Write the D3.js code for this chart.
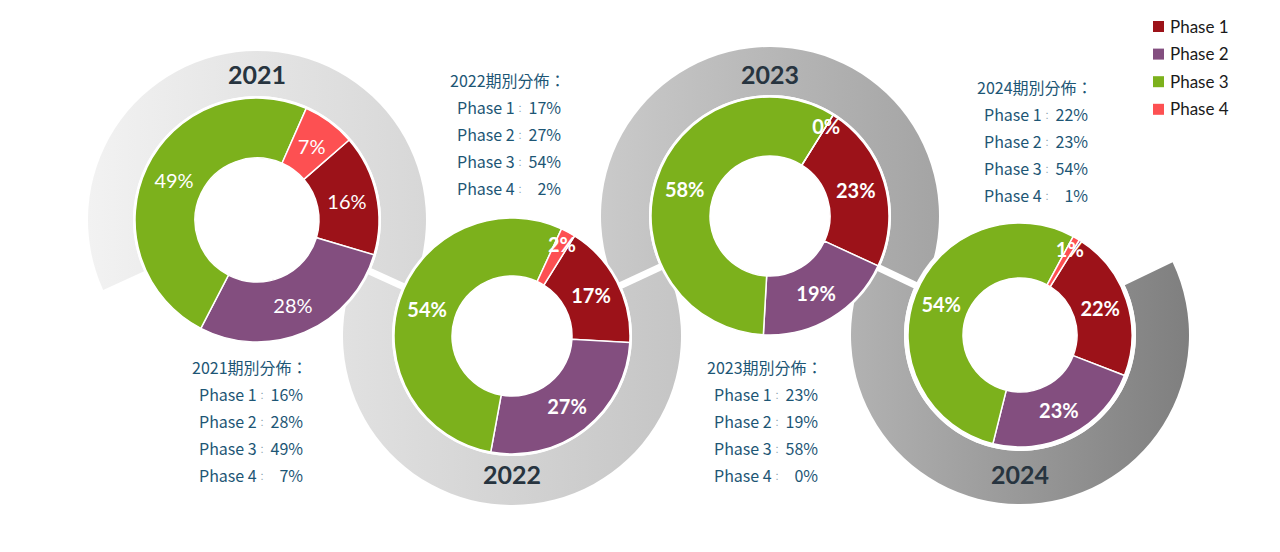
<!DOCTYPE html>
<html>
<head>
<meta charset="utf-8">
<script src="https://cdn.jsdelivr.net/npm/d3@7"></script>
<style>
  body { margin: 0; background: #fff; }
</style>
</head>
<body>
<div id="chart"></div>
<script>
const years = ['2021', '2022', '2023', '2024']
const phases = ['Phase 1', 'Phase 2', 'Phase 3', 'Phase 4']
const phase1 = [16, 17, 23, 22]
const phase2 = [28, 27, 19, 23]
const phase3 = [49, 54, 58, 54]
const phase4 = [7, 2, 0, 1]
const blockTitle = '期別分佈：'

const phaseColors = ['#9c1219', '#834e7f', '#7cb11c', '#fd5052']

// layout of each year (center, radii, first slice angle, text block spot)
const centers = [[257, 220], [512, 336], [770, 216], [1020, 335]]
const outerR = [122, 118, 119, 112]
const innerR = [62, 60, 60, 57]
const edgeGap = [2, 2, 2, 4]
const firstAngle = [49, 32, 32, 32]
const labelWeight = [400, 700, 700, 700]
const yearDy = [-146, 138, -142, 139]
const blocks = [[192, 367], [450, 80], [707, 367], [977, 87]]
const ringShades = [['#f2f2f2', '#d7d7d7'], ['#e1e1e1', '#c5c5c5'], ['#cacaca', '#a4a4a4'], ['#b2b2b2', '#7f7f7f']]
const ringOuter = 169

const width = 1280
const height = 552

const svg = d3.select('#chart').append('svg').attr('width', width).attr('height', height)
const defs = svg.append('defs')

const rad = d => d * Math.PI / 180
const angleTo = (a, b) => Math.atan2(b[0] - a[0], a[1] - b[1])

const data = years.map((y, i) => ({
    year: y,
    values: [phase1[i], phase2[i], phase3[i], phase4[i]]
}))

// gradients for the gray rings (ring paths are drawn around 0,0)
data.map((d, i) => {
    const g = defs.append('linearGradient')
        .attr('id', 'ring' + i)
        .attr('gradientUnits', 'userSpaceOnUse')
        .attr('x1', -ringOuter).attr('x2', ringOuter)
        .attr('y1', 0).attr('y2', 0)
    g.append('stop').attr('offset', 0).attr('stop-color', ringShades[i][0])
    g.append('stop').attr('offset', 1).attr('stop-color', ringShades[i][1])
})

// gray rings, chained from one year to the next
const rings = svg.append('g')
data.map((d, i) => {
    const c = centers[i]
    const toNext = i < data.length - 1 ? angleTo(c, centers[i + 1]) : null
    const toPrev = i > 0 ? angleTo(c, centers[i - 1]) : null
    let a0, a1
    if (i % 2 === 0) {
        a1 = toNext
        a0 = toPrev !== null ? toPrev : -toNext
    } else {
        a1 = toPrev + 2 * Math.PI
        a0 = toNext !== null ? toNext : 2 * Math.PI - a1
    }
    rings.append('path')
        .attr('transform', `translate(${c[0]},${c[1]})`)
        .attr('d', d3.arc()
            .innerRadius(outerR[i] + edgeGap[i])
            .outerRadius(ringOuter)
            .startAngle(a0)
            .endAngle(a1)())
        .attr('fill', `url(#ring${i})`)
})

// white cut where two rings meet
svg.append('g')
    .selectAll('line')
    .data(d3.pairs(centers))
    .join('line')
    .attr('x1', d => d[0][0]).attr('y1', d => d[0][1])
    .attr('x2', d => d[1][0]).attr('y2', d => d[1][1])
    .attr('stroke', '#fff')
    .attr('stroke-width', 7)

// year titles on the rings
svg.append('g')
    .selectAll('text')
    .data(data)
    .join('text')
    .attr('x', (d, i) => centers[i][0])
    .attr('y', (d, i) => centers[i][1] + yearDy[i])
    .attr('text-anchor', 'middle')
    .attr('dominant-baseline', 'central')
    .style('font', 'bold 25px Lato, sans-serif')
    .attr('fill', '#27343f')
    .text(d => d.year)

// donuts
data.map((d, i) => {
    const g = svg.append('g').attr('transform', `translate(${centers[i][0]},${centers[i][1]})`)
    const pie = d3.pie().sort(null)
        .startAngle(rad(firstAngle[i]))
        .endAngle(rad(firstAngle[i]) + 2 * Math.PI)
    const arcs = pie(d.values)
    const arc = d3.arc().innerRadius(innerR[i]).outerRadius(outerR[i])

    g.append('circle').attr('r', outerR[i] + edgeGap[i]).attr('fill', '#fff')

    g.selectAll('path')
        .data(arcs)
        .join('path')
        .attr('d', arc)
        .attr('fill', (o, k) => phaseColors[k])
        .attr('stroke', '#fff')
        .attr('stroke-width', 1.5)

    const smallR = outerR[i] - 13
    g.selectAll('text')
        .data(arcs)
        .join('text')
        .attr('transform', o => {
            if (o.data < 5) {
                const m = (o.startAngle + o.endAngle) / 2
                return `translate(${smallR * Math.sin(m)},${-smallR * Math.cos(m)})`
            }
            return `translate(${arc.centroid(o)})`
        })
        .attr('text-anchor', 'middle')
        .attr('dominant-baseline', 'central')
        .style('font-family', 'Lato, sans-serif')
        .style('font-size', '20px')
        .style('font-weight', labelWeight[i])
        .attr('fill', '#fff')
        .text(o => o.data + '%')
})

// text blocks with the split per year
data.map((d, i) => {
    const x0 = blocks[i][0]
    const y0 = blocks[i][1]
    const g = svg.append('g')
        .style('font-family', '"Noto Sans CJK TC", "Noto Sans", sans-serif')
        .style('font-size', '16px')
        .attr('fill', '#1d5675')
    g.append('text')
        .attr('x', x0)
        .attr('y', y0)
        .attr('dominant-baseline', 'central')
        .text(d.year + blockTitle)
    phases.map((p, k) => {
        const y = y0 + 27 * (k + 1)
        g.append('text')
            .attr('x', x0 + 7)
            .attr('y', y)
            .attr('dominant-baseline', 'central')
            .text(p)
        g.append('text')
            .attr('x', x0 + 70)
            .attr('y', y + 1)
            .attr('text-anchor', 'middle')
            .attr('dominant-baseline', 'central')
            .style('font-size', '9px')
            .attr('fill', '#7d97a6')
            .text('：')
        g.append('text')
            .attr('x', x0 + 111)
            .attr('y', y)
            .attr('text-anchor', 'end')
            .attr('dominant-baseline', 'central')
            .text(d.values[k] + '%')
    })
})

// legend
const legend = svg.append('g')
    .selectAll('g')
    .data(phases)
    .join('g')
    .attr('transform', (d, k) => `translate(1153,${26 + k * 27.6})`)
legend.append('rect')
    .attr('x', 0).attr('y', -5)
    .attr('width', 11).attr('height', 11)
    .attr('fill', (d, k) => phaseColors[k])
legend.append('text')
    .attr('x', 17)
    .attr('y', 0)
    .attr('dominant-baseline', 'central')
    .style('font', '17px Lato, sans-serif')
    .attr('fill', '#1a1a1a')
    .text(d => d)
</script>
</body>
</html>
